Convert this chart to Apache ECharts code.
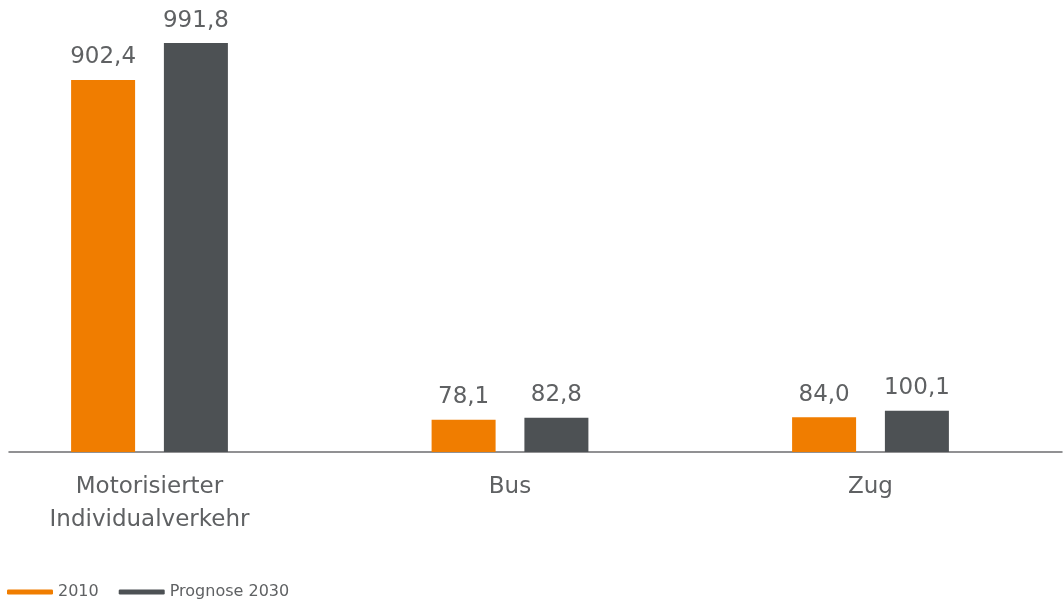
<!DOCTYPE html>
<html>
<head>
<meta charset="utf-8">
<script src="https://cdn.jsdelivr.net/npm/echarts@6/dist/echarts.min.js"></script>
<style>
  html, body { margin: 0; padding: 0; background: #ffffff; }
  #chart { width: 1064px; height: 602px; }
</style>
</head>
<body>
<div id="chart"></div>
<script>
// Verkehrsleistung nach Verkehrsmittel
const categories = ['Motorisierter\nIndividualverkehr', 'Bus', 'Zug'];
const seriesNames = ['2010', 'Prognose 2030'];
const values2010 = [902.4, 78.1, 84.0];
const values2030 = [991.8, 82.8, 100.1];

const ORANGE = '#f07d00';
const GREY = '#4d5154';
const TEXT = '#5f6163';
const FONT = '"DejaVu Sans", sans-serif';

const fmt = v => v.toFixed(1).replace('.', ',');

const labelCfg = {
  show: true,
  position: 'top',
  distance: 11,
  color: TEXT,
  fontSize: 23,
  fontFamily: FONT,
  formatter: p => fmt(p.value)
};

const chart = echarts.init(document.getElementById('chart'), null, { renderer: 'canvas' });
chart.setOption({
  animation: false,
  backgroundColor: '#ffffff',
  grid: [
    // category centres on the grid edges (boundaryGap: false)
    { left: 149.5, right: 193.5, top: 39.7, bottom: 150 },
    // baseline across the full width
    { left: 9, right: 2, top: 39.7, bottom: 150 }
  ],
  legend: {
    left: 7,
    top: 584,
    padding: 0,
    itemWidth: 46,
    itemHeight: 5,
    itemGap: 20,
    icon: 'roundRect',
    textStyle: { color: TEXT, fontSize: 16, fontFamily: FONT },
    data: seriesNames
  },
  xAxis: [
    {
      type: 'category',
      gridIndex: 0,
      data: categories,
      boundaryGap: false,
      axisLine: { show: false },
      axisTick: { show: false },
      splitLine: { show: false },
      axisLabel: {
        color: TEXT,
        fontSize: 23,
        fontFamily: FONT,
        lineHeight: 33,
        margin: 19,
        interval: 0
      }
    },
    {
      type: 'category',
      gridIndex: 1,
      data: [''],
      axisLine: { show: true, lineStyle: { color: '#6d6e70', width: 1.5 } },
      axisTick: { show: false },
      axisLabel: { show: false }
    }
  ],
  yAxis: [
    { type: 'value', gridIndex: 0, min: 0, max: 1000, show: false },
    { type: 'value', gridIndex: 1, min: 0, max: 1000, show: false }
  ],
  series: [
    {
      name: seriesNames[0],
      type: 'bar',
      xAxisIndex: 0,
      yAxisIndex: 0,
      data: values2010,
      barWidth: 64,
      barGap: '45%',
      itemStyle: { color: ORANGE },
      label: labelCfg
    },
    {
      name: seriesNames[1],
      type: 'bar',
      xAxisIndex: 0,
      yAxisIndex: 0,
      data: values2030,
      barWidth: 64,
      barGap: '45%',
      itemStyle: { color: GREY },
      label: labelCfg
    }
  ]
});
</script>
</body>
</html>
